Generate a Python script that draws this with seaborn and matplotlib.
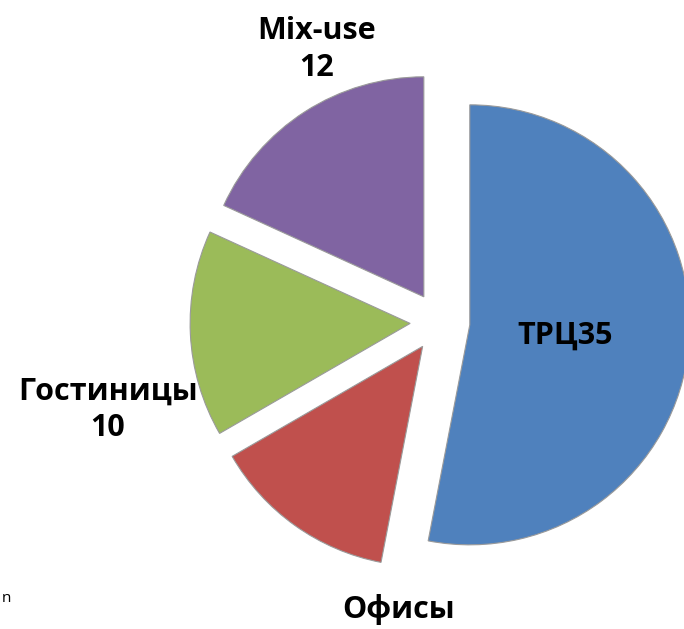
import matplotlib
matplotlib.use("Agg")
import matplotlib.pyplot as plt
import seaborn as sns

# slices, clockwise from 12 o'clock
categories = ["ТРЦ", "Офисы", "Гостиницы", "Mix-use"]
values = [35, 9, 10, 12]
colors = ["#4F81BD", "#C0504D", "#9BBB59", "#8064A2"]

sns.set_theme(style="white")
plt.rcParams["font.family"] = ["Open Sans", "DejaVu Sans"]

fig = plt.figure(figsize=(6.84, 6.29), dpi=100)
ax = fig.add_axes([0, 0, 1, 1])

wedges, _ = ax.pie(values, colors=colors, startangle=90, counterclock=False,
                   explode=[0.136] * len(values), radius=1.0,
                   wedgeprops=dict(linewidth=0.8, edgecolor="#9a9a9a"))

ax.set_xlim(-2.0, 1.109)
ax.set_ylim(-1.3955, 1.4636)
ax.axis("off")

# data labels
lab = dict(fontsize=22, fontweight="bold", color="black", ha="center", va="center",
           linespacing=1.3)
ax.text(0.57, -0.06, f"{categories[0]}{values[0]}", **lab)
# the value line of this label falls below the picture's edge, only the name shows
ax.text(-0.19, -1.305, categories[1], **lab)
ax.text(-1.51, -0.40, f"{categories[2]}\n{values[2]}", **lab)
ax.text(-0.56, 1.24, f"{categories[3]}\n{values[3]}", **lab)

# small fragment at the lower-left edge
ax.text(-1.99, -1.255, "n", fontsize=11, color="black", ha="left", va="center")

fig.savefig("out.png", dpi=100)
